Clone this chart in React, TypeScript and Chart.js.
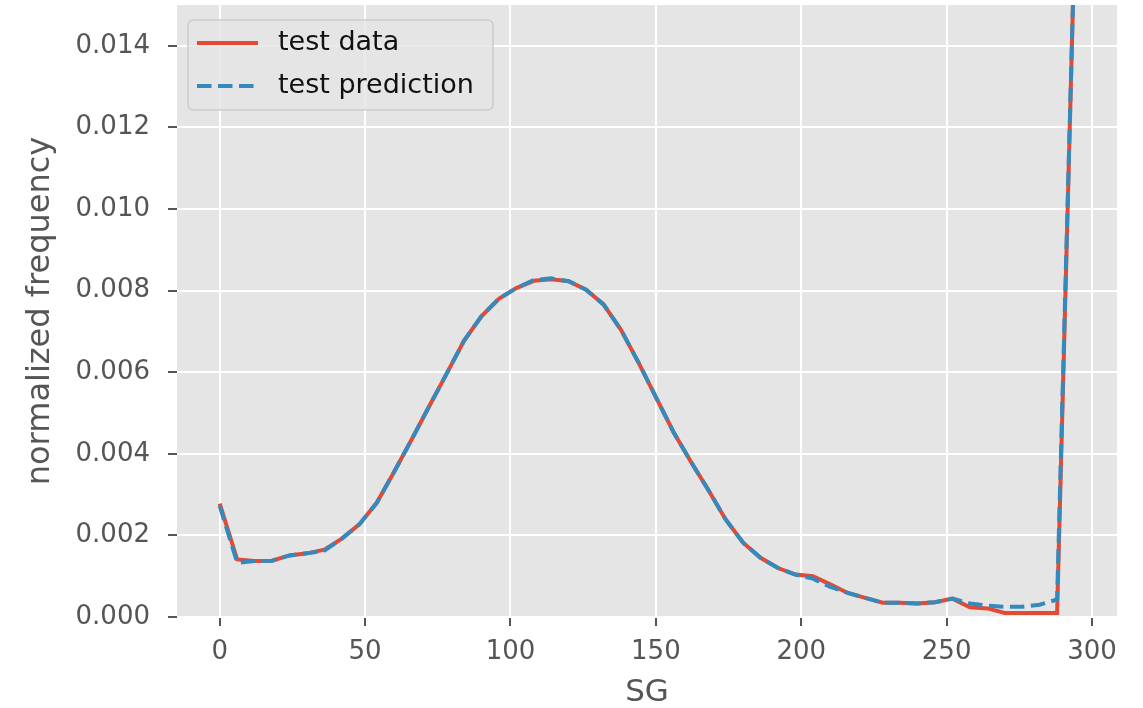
import React, { useEffect, useRef } from "react";
import { Chart, registerables } from "chart.js";

Chart.register(...registerables);

const sgValues = [0, 6, 12, 18, 24, 30, 36, 42, 48, 54, 60, 66, 72, 78, 84, 90, 96, 102, 108, 114, 120, 126, 132, 138, 144, 150, 156, 162, 168, 174, 180, 186, 192, 198, 204, 210, 216, 222, 228, 234, 240, 246, 252, 258, 264, 270, 276, 282, 288, 294];

const testData = [0.00278, 0.00141, 0.00137, 0.00138, 0.00151, 0.00156, 0.00165, 0.00192, 0.00227, 0.0028, 0.00356, 0.00435, 0.00516, 0.00596, 0.00677, 0.00737, 0.0078, 0.00806, 0.00824, 0.00828, 0.00823, 0.00802, 0.00766, 0.00704, 0.00624, 0.00539, 0.00454, 0.00381, 0.00312, 0.00239, 0.00182, 0.00145, 0.0012, 0.00104, 0.001, 0.0008, 0.00059, 0.00047, 0.00035, 0.00035, 0.00033, 0.00036, 0.00045, 0.00024, 0.00021, 0.0001, 0.0001, 0.0001, 0.0001, 0.0165];

const testPrediction = [0.00272, 0.00133, 0.00137, 0.00138, 0.00151, 0.00156, 0.00163, 0.00192, 0.00227, 0.0028, 0.00356, 0.00435, 0.00516, 0.00596, 0.00677, 0.00737, 0.0078, 0.00806, 0.00826, 0.0083, 0.00823, 0.00802, 0.00766, 0.00704, 0.00624, 0.00539, 0.00454, 0.00381, 0.00312, 0.00239, 0.00182, 0.00145, 0.0012, 0.00104, 0.00094, 0.00074, 0.00059, 0.00047, 0.00035, 0.00035, 0.00033, 0.00036, 0.00045, 0.00033, 0.00028, 0.00025, 0.00025, 0.0003, 0.00043, 0.0165];

const xTicks = [0, 50, 100, 150, 200, 250, 300];
const yTicks = [0, 0.002, 0.004, 0.006, 0.008, 0.01, 0.012, 0.014];

const seriesLabels = ["test data", "test prediction"];
const xTitle = "SG";
const yTitle = "normalized frequency";

const RED = "#E24A33";
const BLUE = "#348ABD";
const GREY = "#555555";
const FONT = "'DejaVu Sans', sans-serif";

const bgPlugin = {
  id: "plotBg",
  beforeDraw(chart: any) {
    const { ctx, chartArea } = chart;
    ctx.save();
    ctx.fillStyle = "#E5E5E5";
    ctx.fillRect(chartArea.left, chartArea.top, chartArea.right - chartArea.left, chartArea.bottom - chartArea.top);
    ctx.restore();
  },
};

const legendPlugin = {
  id: "mplLegend",
  afterDatasetsDraw(chart: any) {
    const { ctx } = chart;
    const x0 = 188, y0 = 20, w = 305, h = 90, r = 6;
    ctx.save();
    ctx.beginPath();
    ctx.moveTo(x0 + r, y0);
    ctx.lineTo(x0 + w - r, y0);
    ctx.quadraticCurveTo(x0 + w, y0, x0 + w, y0 + r);
    ctx.lineTo(x0 + w, y0 + h - r);
    ctx.quadraticCurveTo(x0 + w, y0 + h, x0 + w - r, y0 + h);
    ctx.lineTo(x0 + r, y0 + h);
    ctx.quadraticCurveTo(x0, y0 + h, x0, y0 + h - r);
    ctx.lineTo(x0, y0 + r);
    ctx.quadraticCurveTo(x0, y0, x0 + r, y0);
    ctx.closePath();
    ctx.fillStyle = "rgba(229,229,229,0.8)";
    ctx.fill();
    ctx.strokeStyle = "#CCCCCC";
    ctx.lineWidth = 1.5;
    ctx.stroke();

    const ds = chart.data.datasets;
    const rows = [43, 86];
    ds.forEach((d: any, i: number) => {
      const y = rows[i];
      ctx.beginPath();
      ctx.strokeStyle = d.borderColor;
      ctx.lineWidth = d.borderWidth;
      ctx.setLineDash(d.borderDash || []);
      ctx.moveTo(197, y);
      ctx.lineTo(258, y);
      ctx.stroke();
      ctx.setLineDash([]);
      ctx.fillStyle = "#111111";
      ctx.font = `27px ${FONT}`;
      ctx.textBaseline = "middle";
      ctx.textAlign = "left";
      ctx.fillText(d.label, 278, y);
    });
    ctx.restore();
  },
};

export default function App() {
  const ref = useRef<HTMLCanvasElement | null>(null);

  useEffect(() => {
    if (!ref.current) return;
    const toPoints = (vals: number[]) => sgValues.map((x, i) => ({ x, y: vals[i] }));
    const chart = new Chart(ref.current, {
      type: "line",
      data: {
        datasets: [
          {
            label: seriesLabels[0],
            data: toPoints(testData),
            borderColor: RED,
            borderWidth: 4,
            pointRadius: 0,
            fill: false,
            tension: 0,
            order: 2,
            clip: 0,
          },
          {
            label: seriesLabels[1],
            data: toPoints(testPrediction),
            borderColor: BLUE,
            borderWidth: 4,
            borderDash: [14.5, 6.5],
            pointRadius: 0,
            fill: false,
            tension: 0,
            order: 1,
            clip: 0,
          },
        ],
      },
      options: {
        responsive: false,
        animation: false,
        devicePixelRatio: 1,
        layout: { padding: { top: 5, right: 26, bottom: 0, left: 0 } },
        plugins: { legend: { display: false }, tooltip: { enabled: false } },
        scales: {
          x: {
            type: "linear",
            min: -14.7,
            max: 308.6,
            afterBuildTicks: (s: any) => {
              s.ticks = xTicks.map((v) => ({ value: v }));
            },
            afterFit: (s: any) => {
              s.height = 91;
              s.paddingLeft = 0;
              s.paddingRight = 0;
            },
            border: { display: false },
            grid: {
              color: "#FFFFFF",
              lineWidth: 2,
              drawTicks: true,
              tickLength: 9,
              tickColor: GREY,
              tickWidth: 2,
            },
            ticks: {
              color: GREY,
              font: { family: FONT, size: 26 },
              padding: 11,
              maxRotation: 0,
              autoSkip: false,
              callback: (v: any) => String(v),
            },
            title: {
              display: true,
              text: xTitle,
              color: GREY,
              font: { family: FONT, size: 31, lineHeight: 1 },
              padding: { top: 0, bottom: 0 },
            },
          },
          y: {
            type: "linear",
            min: 0,
            max: 0.015,
            afterBuildTicks: (s: any) => {
              s.ticks = yTicks.map((v) => ({ value: v }));
            },
            afterFit: (s: any) => {
              s.width = 177;
              s.paddingTop = 0;
              s.paddingBottom = 0;
            },
            border: { display: false },
            grid: {
              color: "#FFFFFF",
              lineWidth: 2,
              drawTicks: true,
              tickLength: 9,
              tickColor: GREY,
              tickWidth: 2,
            },
            ticks: {
              color: GREY,
              font: { family: FONT, size: 26 },
              padding: 18,
              autoSkip: false,
              callback: (v: any) => Number(v).toFixed(3),
            },
            title: {
              display: true,
              text: yTitle,
              color: GREY,
              font: { family: FONT, size: 32, lineHeight: 1 },
              padding: { top: 25, bottom: 0 },
            },
          },
        },
      },
      plugins: [bgPlugin, legendPlugin],
    } as any);
    return () => chart.destroy();
  }, []);

  return (
    <div style={{ position: "absolute", left: 0, top: 0, width: 1143, height: 708, background: "#FFFFFF" }}>
      <canvas ref={ref} width={1143} height={708} style={{ width: 1143, height: 708, display: "block" }} />
    </div>
  );
}
